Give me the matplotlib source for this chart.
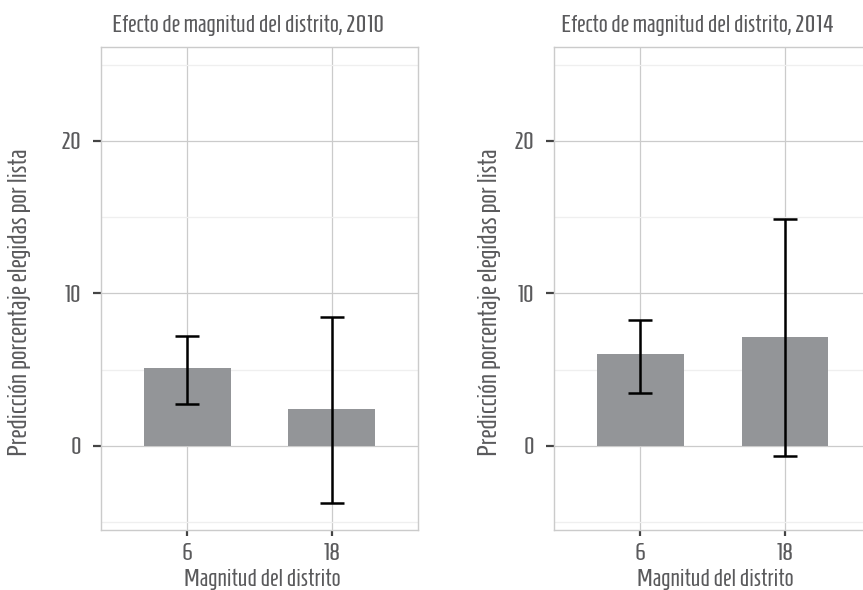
import matplotlib
matplotlib.use("Agg")
import matplotlib.pyplot as plt
import numpy as np

plt.rcParams['font.family'] = ['Homenaje', 'DejaVu Sans']

categories = ["6", "18"]
years = ["2010", "2014"]
values = {"2010": [5.1, 2.4], "2014": [6.0, 7.15]}
lower = {"2010": [2.75, -3.75], "2014": [3.5, -0.65]}
upper = {"2010": [7.2, 8.45], "2014": [8.25, 14.85]}

W, H = 863, 590
fig = plt.figure(figsize=(W / 100, H / 100), dpi=100)

TXT = "#5a5a5c"
BAR = "#939598"
GRID = "#cbcbcb"
MINOR = "#efefef"
FS = 17

# (panel left px, year, title center px, xlabel center px, ylabel baseline px)
panels = [(100.5, "2010", 247.5, 262, 27), (553.8, "2014", 698, 715, 497)]
pw = 418.3 - 100.5
top, bot = 46.7, 530.0

for x0, yr, tcx, xlcx, ylx in panels:
    ax = fig.add_axes([x0 / W, 1 - bot / H, pw / W, (bot - top) / H])
    pos = np.arange(1, len(categories) + 1)
    v = np.array(values[yr])
    lo = np.array(lower[yr])
    up = np.array(upper[yr])
    ax.bar(pos, v, width=0.6, color=BAR, zorder=2)
    ax.errorbar(pos, v, yerr=[v - lo, up - v], fmt='none', ecolor='black',
                elinewidth=1.8, capsize=8.3, capthick=1.8, zorder=3)
    ax.set_xlim(0.4, 2.6)
    ax.set_ylim(-5.51, 26.18)
    ax.set_xticks(pos)
    ax.set_xticklabels(categories)
    ax.set_yticks([0, 10, 20])
    ax.set_yticks([-5, 5, 15, 25], minor=True)
    ax.grid(True, which='major', color=GRID, linewidth=0.9, zorder=0)
    ax.grid(True, which='minor', axis='y', color=MINOR, linewidth=0.9, zorder=0)
    ax.set_axisbelow(True)
    for s in ax.spines.values():
        s.set_color(GRID)
        s.set_linewidth(1.0)
    ax.tick_params(axis='y', which='major', length=6, width=1.6, color='#444444',
                   labelsize=FS, labelcolor=TXT, pad=8)
    ax.tick_params(axis='x', which='major', length=4, width=1.6, color='#444444',
                   labelsize=FS, labelcolor=TXT, pad=5)
    ax.tick_params(which='minor', length=0)
    fig.text(tcx / W, 1 - 31.7 / H, f"Efecto de magnitud del distrito, {yr}",
             ha='center', va='baseline', fontsize=FS, color=TXT)
    fig.text(xlcx / W, 1 - 586.5 / H, "Magnitud del distrito",
             ha='center', va='baseline', fontsize=FS, color=TXT)
    fig.text(ylx / W, 1 - 302 / H, "Predicción porcentaje elegidas por lista",
             ha='center', va='baseline', rotation=90, rotation_mode='anchor',
             fontsize=18.5, color=TXT)

fig.savefig("out.png", dpi=100)
